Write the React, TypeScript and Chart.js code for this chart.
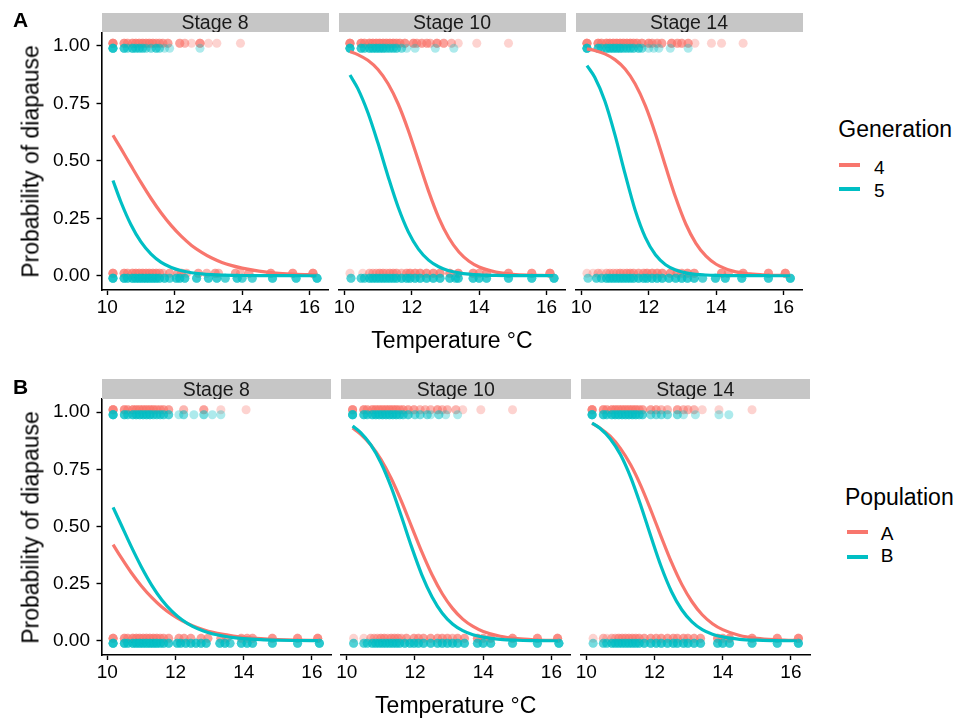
import React, { useEffect, useRef } from 'react';
import { Chart, registerables } from 'chart.js';

Chart.register(...registerables);

const FONT = '"Liberation Sans", Arial, Helvetica, sans-serif';
const RED = '#F8766D';
const TEAL = '#00BFC4';
const RED_PT = 'rgba(248,118,109,0.32)';
const TEAL_PT = 'rgba(0,191,196,0.32)';

// ---------- data ----------
const stageLabels = ['Stage 8', 'Stage 10', 'Stage 14'];
const xTickValues = [10, 12, 14, 16];
const yTickValues = [0, 0.25, 0.5, 0.75, 1];
const X_MIN = 9.83;
const X_MAX = 16.56;
const Y_MIN = -0.062;
const Y_MAX = 1.058;
const generationLevels = ['4', '5'];
const populationLevels = ['A', 'B'];

// temperatures at which the fitted curves were read
const curveTemps = [10.17, 10.4, 10.7, 11.0, 11.3, 11.6, 11.9, 12.2, 12.5, 12.8, 13.1, 13.4, 13.7, 14.0, 14.5, 15.0, 15.5, 16.0, 16.2];

// Row A (Generation): fitted probability of diapause
const genS8Gen4 = [0.611, 0.555, 0.48, 0.406, 0.336, 0.273, 0.218, 0.171, 0.132, 0.102, 0.077, 0.058, 0.044, 0.033, 0.02, 0.012, 0.0075, 0.0046, 0.0038];
const genS8Gen5 = [0.414, 0.323, 0.223, 0.147, 0.094, 0.058, 0.036, 0.022, 0.013, 0.008, 0.0048, 0.0029, 0.0017, 0.001, 0.0004, 0.0002, 0.0001, 0, 0];
const genS10Gen4 = [0.975, 0.962, 0.937, 0.897, 0.835, 0.747, 0.632, 0.5, 0.368, 0.253, 0.165, 0.103, 0.063, 0.038, 0.016, 0.0064, 0.0026, 0.0011, 0.0007];
const genS10Gen5 = [0.873, 0.815, 0.71, 0.577, 0.432, 0.298, 0.191, 0.116, 0.068, 0.039, 0.022, 0.0125, 0.007, 0.0039, 0.0015, 0.0006, 0.0002, 0.0001, 0.0001];
const genS14Gen4 = [0.987, 0.98, 0.965, 0.94, 0.899, 0.834, 0.74, 0.617, 0.476, 0.34, 0.225, 0.141, 0.085, 0.05, 0.02, 0.0078, 0.003, 0.0012, 0.0008];
const genS14Gen5 = [0.914, 0.863, 0.76, 0.613, 0.443, 0.285, 0.167, 0.091, 0.048, 0.025, 0.0125, 0.0063, 0.0032, 0.0016, 0.0005, 0.0002, 0.0001, 0, 0];

// Row B (Population)
const popS8A = [0.421, 0.366, 0.299, 0.24, 0.19, 0.148, 0.114, 0.087, 0.066, 0.05, 0.037, 0.028, 0.021, 0.0155, 0.0095, 0.0058, 0.0035, 0.0021, 0.0017];
const popS8B = [0.584, 0.51, 0.413, 0.323, 0.244, 0.179, 0.129, 0.091, 0.063, 0.044, 0.03, 0.021, 0.014, 0.0096, 0.005, 0.0026, 0.0014, 0.0007, 0.0006];
const popS10A = [0.931, 0.905, 0.858, 0.794, 0.711, 0.611, 0.5, 0.389, 0.289, 0.206, 0.142, 0.095, 0.063, 0.041, 0.02, 0.0095, 0.0045, 0.0021, 0.0016];
const popS10B = [0.94, 0.912, 0.858, 0.779, 0.673, 0.545, 0.411, 0.289, 0.192, 0.121, 0.074, 0.045, 0.027, 0.016, 0.0064, 0.0026, 0.0011, 0.0004, 0.0003];
const popS14A = [0.951, 0.931, 0.895, 0.842, 0.77, 0.678, 0.569, 0.454, 0.343, 0.247, 0.171, 0.114, 0.075, 0.049, 0.023, 0.011, 0.005, 0.0023, 0.0017];
const popS14B = [0.953, 0.93, 0.884, 0.815, 0.716, 0.591, 0.454, 0.323, 0.215, 0.136, 0.083, 0.049, 0.029, 0.017, 0.0067, 0.0027, 0.0011, 0.0004, 0.0003];

type Pair = [number, number]; // [temperature, number of individuals]

// Observations (outcome 1 = diapause, 0 = no diapause), Row A
const a1RedTop: Pair[] = [[10.17,6],[10.5,4],[10.6,3],[10.75,4],[10.85,4],[10.95,4],[11.05,4],[11.15,4],[11.25,4],[11.35,4],[11.45,3],[11.55,3],[11.65,3],[11.8,3],[12.15,3],[12.3,2],[12.5,1],[12.75,4],[13.0,1],[13.25,1],[13.95,1]];
const a1TealTop: Pair[] = [[10.17,6],[10.5,4],[10.6,2],[10.75,4],[10.85,3],[10.95,3],[11.05,3],[11.15,2],[11.3,2],[11.45,3],[11.55,2],[11.7,1],[11.85,1],[12.75,1]];
const a1RedBot: Pair[] = [[10.17,5],[10.5,4],[10.6,3],[10.75,4],[10.85,4],[10.95,4],[11.05,4],[11.15,4],[11.25,4],[11.35,4],[11.45,4],[11.55,3],[11.65,2],[11.85,3],[12.1,3],[12.2,3],[12.35,2],[12.7,3],[12.95,2],[13.2,3],[13.3,2],[13.8,3],[13.95,2],[14.2,3],[14.85,4],[15.5,4],[16.1,5]];
const a1TealBot: Pair[] = [[10.17,6],[10.5,5],[10.6,4],[10.75,5],[10.85,5],[10.95,5],[11.05,5],[11.15,5],[11.25,5],[11.35,5],[11.45,5],[11.55,4],[11.7,4],[11.85,3],[12.05,4],[12.15,4],[12.3,4],[12.65,4],[13.0,4],[13.25,4],[13.5,3],[13.85,4],[14.0,3],[14.3,3],[14.9,4],[15.6,4],[16.22,5]];

const a2RedTop: Pair[] = [[10.17,6],[10.5,5],[10.6,4],[10.75,5],[10.85,5],[10.95,5],[11.05,5],[11.15,5],[11.25,5],[11.35,5],[11.45,5],[11.55,4],[11.65,4],[11.8,4],[12.05,4],[12.15,3],[12.3,3],[12.45,3],[12.55,2],[12.75,4],[12.95,3],[13.18,2],[13.38,1],[13.93,1],[14.87,1]];
const a2TealTop: Pair[] = [[10.17,6],[10.5,4],[10.6,3],[10.75,4],[10.85,4],[10.95,4],[11.05,4],[11.15,4],[11.25,3],[11.35,3],[11.45,3],[11.55,3],[11.7,2],[11.85,1],[12.1,1],[12.7,1],[13.25,1]];
const a2RedBot: Pair[] = [[10.17,1],[10.55,1],[10.75,2],[10.85,2],[10.95,2],[11.05,3],[11.15,3],[11.25,2],[11.35,3],[11.45,3],[11.55,3],[11.7,2],[11.85,3],[11.95,4],[12.1,4],[12.25,4],[12.44,4],[12.64,4],[12.84,4],[13.13,4],[13.38,4],[13.82,4],[14.0,3],[14.22,4],[14.87,4],[15.56,4],[16.1,5]];
const a2TealBot: Pair[] = [[10.2,3],[10.5,3],[10.6,3],[10.75,4],[10.85,4],[10.95,4],[11.05,4],[11.15,4],[11.25,4],[11.35,4],[11.45,4],[11.55,4],[11.7,4],[11.85,4],[11.95,4],[12.1,4],[12.25,4],[12.44,4],[12.64,4],[12.84,4],[13.13,4],[13.3,3],[13.38,4],[13.82,4],[14.0,4],[14.22,4],[14.87,4],[15.56,4],[16.22,5]];

const a3RedTop: Pair[] = [[10.17,6],[10.5,5],[10.6,4],[10.75,5],[10.85,5],[10.95,5],[11.05,5],[11.15,5],[11.25,5],[11.35,5],[11.45,5],[11.55,4],[11.65,4],[11.8,4],[12.0,4],[12.1,3],[12.25,3],[12.39,3],[12.68,4],[12.85,3],[12.98,3],[13.17,3],[13.37,1],[13.86,1],[14.16,1],[14.8,1]];
const a3TealTop: Pair[] = [[10.17,6],[10.5,4],[10.6,3],[10.75,4],[10.85,4],[10.95,4],[11.05,4],[11.15,4],[11.25,3],[11.35,3],[11.45,3],[11.55,3],[11.7,3],[11.8,2],[12.0,1],[12.15,1],[12.3,1],[12.64,1],[13.17,1]];
const a3RedBot: Pair[] = [[10.17,1],[10.35,1],[10.5,2],[10.6,1],[10.75,2],[10.85,2],[10.95,2],[11.05,2],[11.15,3],[11.25,2],[11.35,3],[11.45,3],[11.55,3],[11.7,3],[11.85,3],[11.95,4],[12.1,4],[12.25,4],[12.4,4],[12.64,4],[12.84,4],[12.98,3],[13.15,4],[13.35,4],[14.16,4],[14.36,3],[14.8,4],[15.55,4],[16.05,5]];
const a3TealBot: Pair[] = [[10.2,2],[10.45,3],[10.6,3],[10.75,4],[10.85,4],[10.95,4],[11.05,4],[11.15,4],[11.25,4],[11.35,4],[11.45,4],[11.55,4],[11.7,4],[11.85,4],[11.95,4],[12.1,4],[12.25,4],[12.4,4],[12.6,4],[12.8,4],[12.98,4],[13.15,4],[13.35,4],[13.6,3],[13.98,4],[14.27,4],[14.76,4],[15.55,4],[16.2,5]];

// Row B
const b1RedTop: Pair[] = [[10.17,6],[10.5,4],[10.6,3],[10.75,4],[10.85,4],[10.95,4],[11.05,4],[11.15,4],[11.25,4],[11.35,4],[11.45,3],[11.55,3],[11.65,3],[11.8,3],[12.24,2],[12.83,3],[13.33,1],[14.07,1]];
const b1TealTop: Pair[] = [[10.17,6],[10.5,4],[10.6,3],[10.75,4],[10.85,4],[10.95,4],[11.05,4],[11.15,4],[11.25,4],[11.35,3],[11.45,3],[11.55,3],[11.65,3],[11.8,3],[12.1,1],[12.24,2],[12.54,1],[12.83,2],[13.08,1],[13.33,1]];
const b1RedBot: Pair[] = [[10.17,5],[10.5,4],[10.6,3],[10.75,4],[10.85,4],[10.95,4],[11.05,4],[11.15,4],[11.25,4],[11.35,4],[11.45,4],[11.55,3],[11.65,3],[11.8,3],[12.1,3],[12.25,3],[12.45,3],[12.75,3],[12.95,3],[13.33,3],[13.5,3],[13.93,3],[14.1,3],[14.26,3],[14.84,4],[15.58,4],[16.17,5]];
const b1TealBot: Pair[] = [[10.17,6],[10.5,5],[10.6,4],[10.75,5],[10.85,5],[10.95,5],[11.05,5],[11.15,5],[11.25,5],[11.35,5],[11.45,5],[11.55,4],[11.65,4],[11.8,4],[12.05,4],[12.15,4],[12.3,4],[12.45,4],[12.6,4],[12.75,4],[12.9,4],[13.3,4],[13.45,4],[13.6,3],[13.93,4],[14.1,4],[14.26,4],[14.84,4],[15.58,4],[16.22,5]];

const b2RedTop: Pair[] = [[10.17,5],[10.5,4],[10.6,3],[10.75,4],[10.85,4],[10.95,4],[11.05,4],[11.15,4],[11.25,4],[11.35,4],[11.45,4],[11.55,3],[11.65,3],[11.8,3],[11.97,3],[12.15,2],[12.3,2],[12.46,2],[12.66,3],[12.8,2],[12.95,2],[13.2,2],[13.4,1],[13.93,1],[14.86,1]];
const b2TealTop: Pair[] = [[10.17,6],[10.5,4],[10.6,3],[10.75,4],[10.85,4],[10.95,4],[11.05,4],[11.15,4],[11.25,4],[11.35,4],[11.45,4],[11.55,3],[11.65,3],[11.8,3],[12.0,2],[12.15,2],[12.36,2],[12.46,1],[12.7,2],[12.9,1],[13.25,1]];
const b2RedBot: Pair[] = [[10.2,1],[10.5,1],[10.7,2],[10.8,2],[10.9,2],[11.0,3],[11.1,3],[11.2,2],[11.3,3],[11.4,3],[11.5,3],[11.6,2],[11.75,3],[11.97,3],[12.1,3],[12.25,3],[12.46,3],[12.66,3],[12.8,3],[12.95,3],[13.1,2],[13.25,3],[13.45,3],[13.83,4],[14.0,3],[14.22,4],[14.86,4],[15.59,4],[16.18,5]];
const b2TealBot: Pair[] = [[10.2,3],[10.5,3],[10.6,3],[10.75,4],[10.85,4],[10.95,4],[11.05,4],[11.15,4],[11.25,4],[11.35,4],[11.45,4],[11.55,4],[11.7,4],[11.85,4],[11.97,4],[12.1,4],[12.25,4],[12.46,4],[12.66,4],[12.8,4],[12.95,4],[13.1,4],[13.25,4],[13.45,4],[13.83,4],[14.0,4],[14.22,4],[14.86,4],[15.59,4],[16.22,5]];

const b3RedTop: Pair[] = [[10.17,6],[10.5,4],[10.6,3],[10.75,4],[10.85,4],[10.95,4],[11.05,4],[11.15,4],[11.25,4],[11.35,4],[11.45,4],[11.55,3],[11.65,3],[11.89,3],[12.05,3],[12.2,2],[12.38,2],[12.67,3],[12.85,2],[12.98,2],[13.16,2],[13.4,1],[13.89,1],[14.86,1]];
const b3TealTop: Pair[] = [[10.17,6],[10.5,4],[10.6,3],[10.75,4],[10.85,4],[10.95,4],[11.05,4],[11.15,4],[11.25,4],[11.35,4],[11.45,4],[11.55,3],[11.65,3],[11.89,2],[12.05,2],[12.2,2],[12.38,2],[12.67,2],[12.85,1],[13.2,1],[13.89,1],[14.18,1]];
const b3RedBot: Pair[] = [[10.2,1],[10.5,2],[10.6,1],[10.75,2],[10.85,2],[10.95,3],[11.05,3],[11.15,3],[11.25,3],[11.35,3],[11.45,3],[11.55,3],[11.7,3],[11.89,3],[12.05,3],[12.2,3],[12.38,3],[12.55,3],[12.67,3],[12.85,3],[12.98,3],[13.16,3],[13.35,3],[13.85,4],[14.0,3],[14.2,4],[14.86,4],[15.6,4],[16.22,5]];
const b3TealBot: Pair[] = [[10.2,2],[10.5,3],[10.6,3],[10.75,4],[10.85,4],[10.95,4],[11.05,4],[11.15,4],[11.25,4],[11.35,4],[11.45,4],[11.55,4],[11.7,4],[11.89,4],[12.05,4],[12.2,4],[12.38,4],[12.55,4],[12.67,4],[12.85,4],[12.98,4],[13.16,4],[13.35,4],[13.85,4],[14.0,4],[14.2,4],[14.86,4],[15.6,4],[16.22,5]];

// ---------- assembly ----------
interface PanelData {
  red: number[];
  teal: number[];
  redTop: Pair[];
  redBot: Pair[];
  tealTop: Pair[];
  tealBot: Pair[];
}

const rowAPanels: PanelData[] = [
  { red: genS8Gen4, teal: genS8Gen5, redTop: a1RedTop, redBot: a1RedBot, tealTop: a1TealTop, tealBot: a1TealBot },
  { red: genS10Gen4, teal: genS10Gen5, redTop: a2RedTop, redBot: a2RedBot, tealTop: a2TealTop, tealBot: a2TealBot },
  { red: genS14Gen4, teal: genS14Gen5, redTop: a3RedTop, redBot: a3RedBot, tealTop: a3TealTop, tealBot: a3TealBot },
];
const rowBPanels: PanelData[] = [
  { red: popS8A, teal: popS8B, redTop: b1RedTop, redBot: b1RedBot, tealTop: b1TealTop, tealBot: b1TealBot },
  { red: popS10A, teal: popS10B, redTop: b2RedTop, redBot: b2RedBot, tealTop: b2TealTop, tealBot: b2TealBot },
  { red: popS14A, teal: popS14B, redTop: b3RedTop, redBot: b3RedBot, tealTop: b3TealTop, tealBot: b3TealBot },
];

const DODGE = 0.011;

function expand(list: Pair[], outcome: number, dy: number) {
  const out: { x: number; y: number }[] = [];
  list.forEach(([t, n]) => {
    for (let i = 0; i < n; i++) out.push({ x: t, y: outcome + dy });
  });
  return out;
}

function curve(vals: number[]) {
  return curveTemps.map((t, i) => ({ x: t, y: vals[i] }));
}

const Y_AXIS_W = 90;
const X_AXIS_H = 30;
const PAD_TOP = 18;

function PanelChart(props: { left: number; top: number; width: number; height: number; showY: boolean; data: PanelData }) {
  const { left, top, width, height, showY, data } = props;
  const ref = useRef<HTMLCanvasElement>(null);
  const cLeft = Math.floor(left - (showY ? 100 : 16));
  const cTop = Math.floor(top - PAD_TOP);
  const cRight = Math.ceil(left + width + 16);
  const cBottom = Math.ceil(top + height + X_AXIS_H + 4);
  const cW = cRight - cLeft;
  const cH = cBottom - cTop;
  const padding = {
    left: left - cLeft - (showY ? Y_AXIS_W : 0),
    right: cRight - (left + width),
    top: top - cTop,
    bottom: cBottom - (top + height) - X_AXIS_H,
  };

  useEffect(() => {
    const grid = { display: true, drawOnChartArea: false, drawTicks: true, tickLength: 5, tickColor: '#000', tickWidth: 1.4, color: '#000' };
    const border = { display: true, color: '#000', width: 1.6 };
    const chart = new Chart(ref.current as HTMLCanvasElement, {
      type: 'line',
      data: {
        datasets: [
          { data: curve(data.teal), borderColor: TEAL, borderWidth: 3.2, pointRadius: 0, cubicInterpolationMode: 'monotone', fill: false, order: 0 } as any,
          { data: curve(data.red), borderColor: RED, borderWidth: 3.2, pointRadius: 0, cubicInterpolationMode: 'monotone', fill: false, order: 1 } as any,
          {
            data: [...expand(data.tealTop, 1, -DODGE), ...expand(data.tealBot, 0, -DODGE)],
            showLine: false, pointRadius: 4.5, pointBorderWidth: 0, pointBackgroundColor: TEAL_PT, pointBorderColor: 'rgba(0,0,0,0)', order: 2,
          } as any,
          {
            data: [...expand(data.redTop, 1, DODGE), ...expand(data.redBot, 0, DODGE)],
            showLine: false, pointRadius: 4.5, pointBorderWidth: 0, pointBackgroundColor: RED_PT, pointBorderColor: 'rgba(0,0,0,0)', order: 3,
          } as any,
        ],
      },
      options: {
        animation: false,
        responsive: false,
        events: [],
        layout: { padding },
        plugins: { legend: { display: false }, tooltip: { enabled: false } },
        scales: {
          x: {
            type: 'linear',
            position: 'bottom',
            min: X_MIN,
            max: X_MAX,
            afterFit: (s: any) => { s.height = X_AXIS_H; },
            afterBuildTicks: (s: any) => { s.ticks = xTickValues.map((v) => ({ value: v })); },
            grid,
            border,
            ticks: { color: '#000', font: { family: FONT, size: 19 }, padding: 1, maxRotation: 0, autoSkip: false },
          },
          y: {
            type: 'linear',
            display: showY,
            min: Y_MIN,
            max: Y_MAX,
            afterFit: (s: any) => { s.width = showY ? Y_AXIS_W : 0; },
            afterBuildTicks: (s: any) => { s.ticks = yTickValues.map((v) => ({ value: v })); },
            grid,
            border,
            ticks: { color: '#000', font: { family: FONT, size: 19 }, padding: 6.5, callback: (v: any) => Number(v).toFixed(2) },
          },
        },
      } as any,
    });
    return () => chart.destroy();
  }, []);

  return (
    <canvas
      ref={ref}
      width={cW}
      height={cH}
      style={{ position: 'absolute', left: cLeft, top: cTop, width: cW, height: cH }}
    />
  );
}

function Txt(props: { x: number; baseline: number; size: number; children: React.ReactNode; center?: boolean; bold?: boolean; color?: string }) {
  const { x, baseline, size, children, center, bold, color } = props;
  return (
    <div
      style={{
        position: 'absolute',
        left: x,
        top: baseline - 0.8465 * size,
        fontFamily: FONT,
        fontSize: size,
        lineHeight: `${size}px`,
        fontWeight: bold ? 'bold' : 'normal',
        color: color || '#000',
        whiteSpace: 'nowrap',
        transform: center ? 'translateX(-50%)' : undefined,
      }}
    >
      {children}
    </div>
  );
}

interface RowLayout {
  letter: string;
  letterBaseline: number;
  plotTop: number;
  plotBottom: number;
  lefts: number[];
  width: number;
  stripTop: number;
  xTitleBaseline: number;
  legendTitle: string;
  legendLevels: string[];
  legendTitleX: number;
  legendTitleBaseline: number;
  keyX: number;
  keyYs: number[];
  labelX: number;
  labelBaselines: number[];
  panels: PanelData[];
}

const rows: RowLayout[] = [
  {
    letter: 'A', letterBaseline: 26.7, plotTop: 32.5, plotBottom: 290, lefts: [101.5, 338.5, 575.5], width: 227, stripTop: 13.3,
    xTitleBaseline: 348.3, legendTitle: 'Generation', legendLevels: generationLevels, legendTitleX: 838.3, legendTitleBaseline: 137.5,
    keyX: 839, keyYs: [165, 189.3], labelX: 874, labelBaselines: [174, 197.5], panels: rowAPanels,
  },
  {
    letter: 'B', letterBaseline: 393.3, plotTop: 399, plotBottom: 655, lefts: [101.5, 341, 580.5], width: 229.5, stripTop: 379,
    xTitleBaseline: 713.3, legendTitle: 'Population', legendLevels: populationLevels, legendTitleX: 845, legendTitleBaseline: 505,
    keyX: 846.7, keyYs: [532.3, 556.7], labelX: 880.7, labelBaselines: [540, 562.5], panels: rowBPanels,
  },
];

function Row({ r }: { r: RowLayout }) {
  const h = r.plotBottom - r.plotTop;
  const stripH = r.plotTop - r.stripTop;
  const rowLeft = r.lefts[0];
  const rowRight = r.lefts[2] + r.width;
  const cy = (r.plotTop + r.plotBottom) / 2;
  return (
    <>
      {r.lefts.map((l, i) => (
        <PanelChart key={'p' + i} left={l} top={r.plotTop} width={r.width} height={h} showY={i === 0} data={r.panels[i]} />
      ))}
      <Txt x={13} baseline={r.letterBaseline} size={21} bold>{r.letter}</Txt>
      {r.lefts.map((l, i) => (
        <div
          key={'s' + i}
          style={{ position: 'absolute', left: l, top: r.stripTop, width: r.width, height: stripH, background: '#c6c6c6', overflow: 'hidden' }}
        >
          <div
            style={{
              position: 'absolute', left: 0, width: r.width, textAlign: 'center',
              top: stripH - 2.5 - 0.8465 * 19.5, fontFamily: FONT, fontSize: 19.5, lineHeight: '19.5px', color: '#1a1a1a', whiteSpace: 'nowrap',
            }}
          >
            {stageLabels[i]}
          </div>
        </div>
      ))}
      <div
        style={{
          position: 'absolute', left: 30.5 - 150, top: cy - 11.5, width: 300, height: 23, textAlign: 'center',
          fontFamily: FONT, fontSize: 23, lineHeight: '23px', color: '#000', whiteSpace: 'nowrap',
          transform: 'rotate(-90deg)', transformOrigin: '50% 50%',
        }}
      >
        Probability of diapause
      </div>
      <Txt x={(rowLeft + rowRight) / 2} baseline={r.xTitleBaseline} size={23} center>Temperature °C</Txt>
      <Txt x={r.legendTitleX} baseline={r.legendTitleBaseline} size={23}>{r.legendTitle}</Txt>
      {r.legendLevels.map((lab, i) => (
        <React.Fragment key={'l' + i}>
          <div style={{ position: 'absolute', left: r.keyX, top: r.keyYs[i] - 2, width: 21, height: 4, background: i === 0 ? RED : TEAL }} />
          <Txt x={r.labelX} baseline={r.labelBaselines[i]} size={19}>{lab}</Txt>
        </React.Fragment>
      ))}
    </>
  );
}

export default function App() {
  return (
    <div style={{ position: 'fixed', left: 0, top: 0, width: 956, height: 721, background: '#fff', overflow: 'hidden' }}>
      {rows.map((r) => (
        <Row key={r.letter} r={r} />
      ))}
    </div>
  );
}
